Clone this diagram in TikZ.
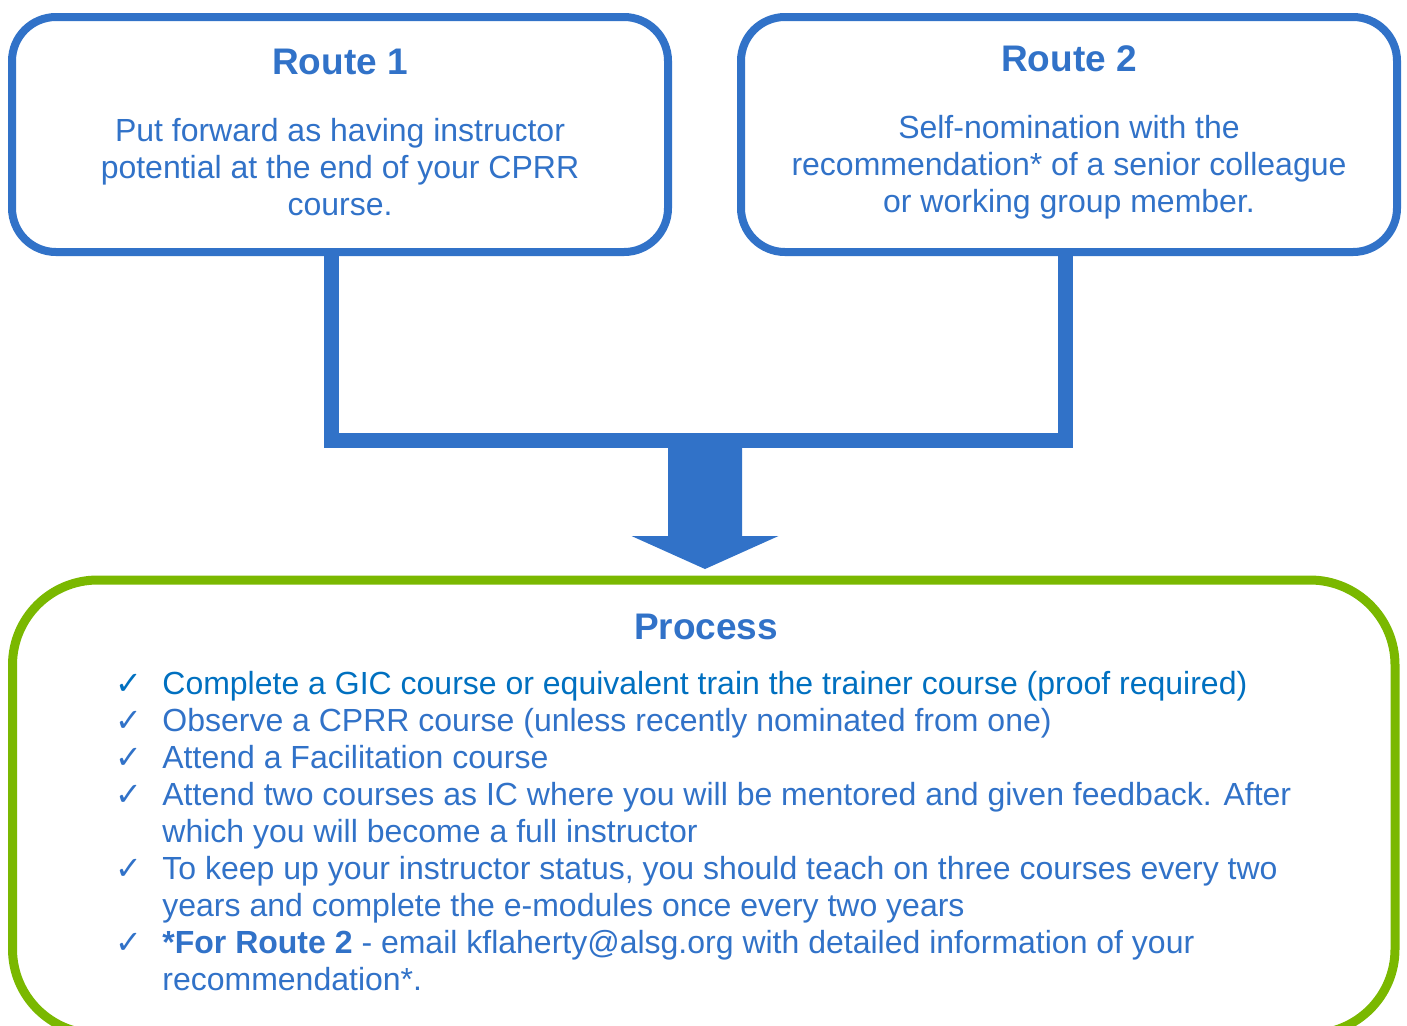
\documentclass[tikz,border=0pt]{standalone}
\usepackage{fontspec}
\setmainfont{Liberation Sans}
\newfontfamily\checkfont{DejaVu Sans}
\usepackage{tikz}
\usetikzlibrary{calc}
\definecolor{routeblue}{HTML}{3172C8}
\definecolor{stepblue}{HTML}{0070C0}
\definecolor{procgreen}{HTML}{7AB800}
\newcommand{\tick}{\makebox[23.5pt][l]{\checkfont ✓}}

\begin{document}
\begin{tikzpicture}[x=0.5pt, y=-0.5pt,
  routebox/.style={draw=routeblue, line width=4pt, rounded corners=22pt, minimum width=328pt, minimum height=117.5pt, inner sep=0pt, align=center, text=routeblue, font=\fontsize{16}{18.5}\selectfont},
  titlefont/.style={font=\fontsize{18.5}{21}\selectfont\bfseries}]
\useasboundingbox (0,0) rectangle (1407,1025);
\node[routebox, text depth=2.5pt] (route1) at (340,134.5) {{\fontsize{18.5}{21}\selectfont\bfseries Route 1}\\[15.1pt]
  Put forward as having instructor\\ potential at the end of your CPRR\\ course.};
\node[routebox, text depth=5.4pt] (route2) at (1069,134.5) {{\fontsize{18.5}{21}\selectfont\bfseries Route 2}\\[15.1pt]
  Self-nomination with the\\ recommendation* of a senior colleague\\ or working group member.};
\node[draw=procgreen, line width=4.5pt, rounded corners=42.5pt, minimum width=691.25pt, minimum height=227pt] (process) at (703.75,807) {};
\node[titlefont, text=routeblue] (proctitle) at (706,627) {Process};
\node[anchor=north west, inner sep=0pt, text=routeblue, font=\fontsize{16}{18.5}\selectfont] (steps) at (115,668.6) {%
\begin{tabular}{@{}l@{}l@{}}
{\color{stepblue}\tick} & \color{stepblue}Complete a GIC course or equivalent train the trainer course (proof required)\\
\tick & Observe a CPRR course (unless recently nominated from one)\\
\tick & Attend a Facilitation course\\
\tick & Attend two courses as IC where you will be mentored and given feedback. After\\
 & which you will become a full instructor\\
\tick & To keep up your instructor status, you should teach on three courses every two\\
 & years and complete the e-modules once every two years\\
\tick & \textbf{*For Route 2} - email kflaherty@alsg.org with detailed information of your\\
 & recommendation*.
\end{tabular}};
\coordinate (join1) at (331,440);
\coordinate (join2) at (1065,440);
\coordinate (tip) at (705,569);
\draw[routeblue, line width=7.5pt] (route1.south -| join1) -- (join1) -- (join2) -- (route2.south -| join2);
\fill[routeblue] ($(tip)+(-37,-136)$) -- ($(tip)+(-37,-33)$) -- ($(tip)+(-73.5,-33)$) -- (tip)
  -- ($(tip)+(73.5,-33)$) -- ($(tip)+(37,-33)$) -- ($(tip)+(37,-136)$) -- cycle;
\end{tikzpicture}
\end{document}
